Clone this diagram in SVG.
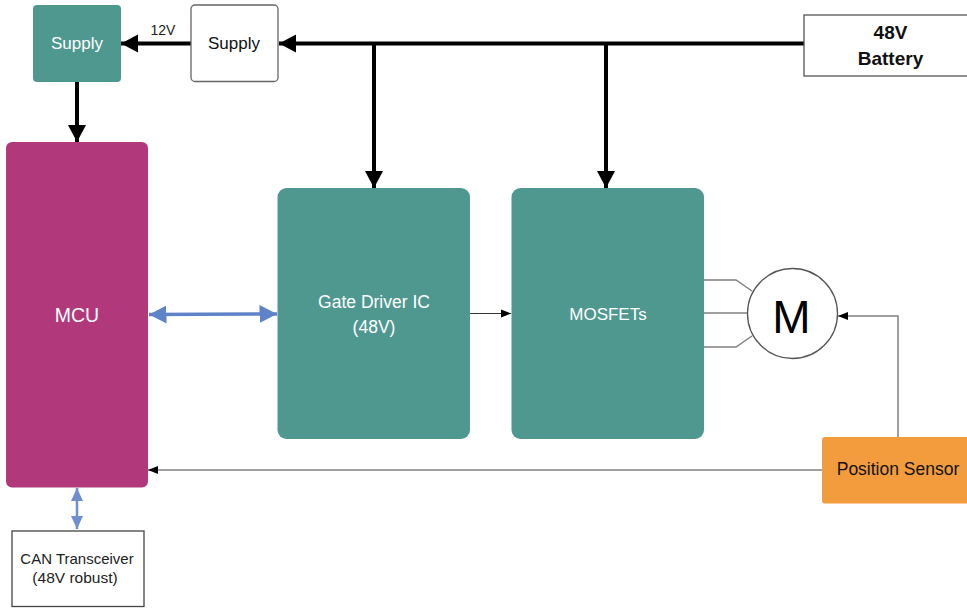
<svg xmlns="http://www.w3.org/2000/svg" width="967" height="608" viewBox="0 0 967 608">
<style>
text{font-family:"Liberation Sans",Arial,sans-serif;text-anchor:middle}
.teal{fill:#4f9890}
.w{fill:#fff}
.thick{fill:none;stroke:#000;stroke-width:4}
.thin{fill:none;stroke:#808080;stroke-width:1.5}
.blue{fill:none;stroke:#5f83c8;stroke-width:3.5}
.blue2{fill:none;stroke:#6f8fce;stroke-width:2.5}
</style>
<defs>
<marker id="hb" markerUnits="userSpaceOnUse" markerWidth="18" markerHeight="20" refX="17" refY="10" orient="auto-start-reverse"><path d="M0 1 L17 10 L0 19 Z" fill="#000"/></marker>
<marker id="hs" markerUnits="userSpaceOnUse" markerWidth="12" markerHeight="12" refX="10" refY="6" orient="auto"><path d="M0 2 L10 6 L0 10 Z" fill="#000"/></marker>
<marker id="hblue" markerUnits="userSpaceOnUse" markerWidth="18" markerHeight="20" refX="17.500" refY="10" orient="auto-start-reverse"><path d="M0 1 L17.500 10 L0 19 Z" fill="#5f83c8"/></marker>
<marker id="hcan" markerUnits="userSpaceOnUse" markerWidth="13" markerHeight="14" refX="13" refY="7" orient="auto-start-reverse"><path d="M0 1 L13 7 L0 13 Z" fill="#6f8fce"/></marker>
</defs>
<g id="connectors">
<path class="thick" d="M804 43.500H279" marker-end="url(#hb)"/>
<path class="thick" d="M191 43.500H121" marker-end="url(#hb)"/>
<path class="thick" d="M77 82V142" marker-end="url(#hb)"/>
<path class="thick" d="M374 43.500V188" marker-end="url(#hb)"/>
<path class="thick" d="M606 43.500V188" marker-end="url(#hb)"/>
<path class="blue" d="M149 314.500L277 314" marker-start="url(#hblue)" marker-end="url(#hblue)"/>
<path d="M470 313.500H511" fill="none" stroke="#333" stroke-width="1.200" marker-end="url(#hs)"/>
<path class="thin" d="M704 280H736L752 291"/>
<path class="thin" d="M704 313H748"/>
<path class="thin" d="M704 347H736L752 336"/>
<path class="thin" d="M898 437V316H838" marker-end="url(#hs)"/>
<path class="thin" d="M822 470H148" marker-end="url(#hs)"/>
<path class="blue2" d="M77 488V529" marker-start="url(#hcan)" marker-end="url(#hcan)"/>
</g>
<g id="supply-teal"><rect class="teal" x="33" y="5" width="88" height="77" rx="4"/><text class="w" x="77" y="49" font-size="17">Supply</text></g>
<text id="label-12v" x="163" y="35" font-size="14" fill="#222">12V</text>
<g id="supply-white"><rect x="191" y="5" width="87" height="76.500" rx="4" fill="#fff" stroke="#666" stroke-width="1.300"/><text x="234" y="49" font-size="17" fill="#111">Supply</text></g>
<g id="battery"><rect x="804" y="15" width="172" height="61" fill="#fff" stroke="#555" stroke-width="1.300"/><text x="890.500" y="39" font-size="19" font-weight="bold" fill="#111">48V</text><text x="890.500" y="65" font-size="19" font-weight="bold" fill="#111">Battery</text></g>
<g id="mcu"><rect x="6" y="142" width="142" height="345.500" rx="6" fill="#b2387c"/><text class="w" x="77" y="322" font-size="19.500">MCU</text></g>
<g id="gate-driver"><rect class="teal" x="277.500" y="188" width="192.500" height="251" rx="9"/><text class="w" x="374" y="308" font-size="17.500">Gate Driver IC</text><text class="w" x="374" y="333" font-size="17.500">(48V)</text></g>
<g id="mosfets"><rect class="teal" x="511.500" y="188" width="192.500" height="251" rx="9"/><text class="w" x="608" y="320" font-size="17">MOSFETs</text></g>
<g id="motor"><circle cx="792.500" cy="313.500" r="45" fill="#fff" stroke="#555" stroke-width="1.300"/><text x="791.500" y="333" font-size="46" fill="#000">M</text></g>
<g id="position-sensor"><rect x="822" y="437" width="155" height="66.500" rx="3" fill="#f39c3d"/><text x="898" y="475" font-size="17.500" fill="#111">Position Sensor</text></g>
<g id="can"><rect x="12" y="531" width="132" height="75.500" fill="#fff" stroke="#444" stroke-width="1.300"/><text x="77" y="564" font-size="15" fill="#222">CAN Transceiver</text><text x="75" y="583" font-size="15.500" fill="#222">(48V robust)</text></g>
</svg>
